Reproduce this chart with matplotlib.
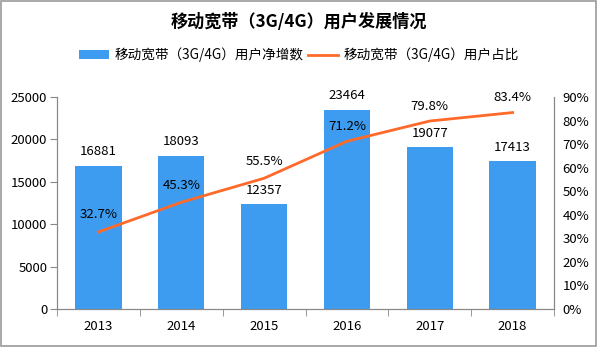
import matplotlib
matplotlib.use('Agg')
import matplotlib.pyplot as plt
from matplotlib.patches import Rectangle
from matplotlib.ticker import FuncFormatter, FixedLocator

plt.rcParams['font.family'] = ['Noto Sans CJK SC', 'DejaVu Sans']

years = ['2013', '2014', '2015', '2016', '2017', '2018']
net_add = [16881, 18093, 12357, 23464, 19077, 17413]
share = [32.7, 45.3, 55.5, 71.2, 79.8, 83.4]

bar_color = '#3d9cf0'
line_color = '#ff6a2a'
axis_color = '#888888'

fig = plt.figure(figsize=(5.98, 3.47), dpi=100)
ax = fig.add_axes([57/598, 1-309/347, (554-57)/598, (309-97)/347])
ax2 = ax.twinx()

x = list(range(len(years)))
ax.bar(x, net_add, width=0.56, color=bar_color, zorder=2,
       label='移动宽带（3G/4G）用户净增数')
ax2.plot(x, share, color=line_color, lw=2, zorder=3,
         label='移动宽带（3G/4G）用户占比')

ax.set_xlim(-0.5, len(years) - 0.5)
ax.set_ylim(0, 25000)
ax2.set_ylim(0, 90)
ax.set_yticks(range(0, 25001, 5000))
ax2.set_yticks(range(0, 91, 10))
ax2.yaxis.set_major_formatter(FuncFormatter(lambda v, p: '%d%%' % v))

ax.set_xticks(x)
ax.set_xticklabels(years)
ax.xaxis.set_minor_locator(FixedLocator([i - 0.5 for i in range(len(years) + 1)]))
ax.tick_params(axis='x', which='major', length=0, pad=8, labelsize=9.5)
ax.tick_params(axis='x', which='minor', length=5, color=axis_color)
ax.tick_params(axis='y', length=5, color=axis_color, labelsize=9.5, pad=2)
ax2.tick_params(axis='y', length=0, labelsize=9.5, pad=6)

for a in (ax, ax2):
    for s in a.spines.values():
        s.set_color(axis_color)
    a.spines['top'].set_visible(False)

ax.set_zorder(ax2.get_zorder() - 1)
ax.patch.set_visible(False)

for xi, v in zip(x, net_add):
    ax.text(xi, v + 900, str(v), ha='center', va='bottom', fontsize=9.5)

share_offset = [4.5, 4.5, 4.5, 3.5, 3.5, 3.5]
for xi, v, o in zip(x, share, share_offset):
    ax2.text(xi, v + o, '%.1f%%' % v, ha='center', va='bottom', fontsize=9.5)

fig.text(0.5, 1 - 22/347, '移动宽带（3G/4G）用户发展情况', ha='center', va='center',
         fontsize=12.3, fontweight='bold')

h1, l1 = ax.get_legend_handles_labels()
h2, l2 = ax2.get_legend_handles_labels()
fig.legend(h1 + h2, l1 + l2, loc='center', bbox_to_anchor=(0.5, 1 - 55/347),
           ncol=2, frameon=False, fontsize=9.8, handlelength=2.2,
           handletextpad=0.4, columnspacing=0.3)

fig.patches.append(Rectangle((0.002, 0.003), 0.994, 0.994, transform=fig.transFigure,
                             fill=False, edgecolor='#999999', lw=1.2))

fig.savefig('out.png', dpi=100)
